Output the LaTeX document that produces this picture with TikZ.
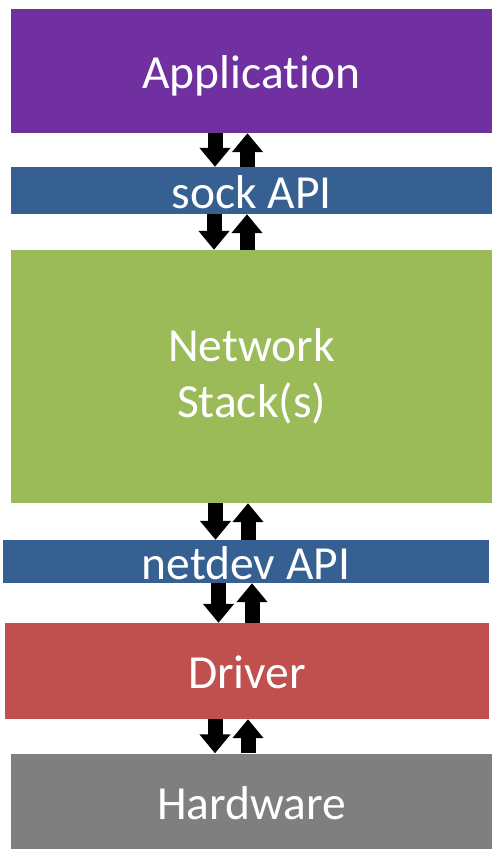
\documentclass[tikz,border=0pt]{standalone}
\usepackage{fontspec}
\setmainfont{Carlito}[Ligatures=NoCommon]
\usetikzlibrary{arrows.meta}
\definecolor{appviolet}{HTML}{7030A0}
\definecolor{apiblue}{HTML}{376092}
\definecolor{stackgreen}{HTML}{9BBB59}
\definecolor{driverred}{HTML}{C0504D}
\definecolor{hwgray}{HTML}{7F7F7F}
\begin{document}
\begin{tikzpicture}[x=1pt,y=-1pt,
  layer/.style={fill=#1,text=white,inner sep=0pt,align=center,
    font=\fontsize{47.5}{56}\selectfont},
  oneline/.style={text height=36pt,text depth=1pt},
  flow/.style={line width=15pt},
  >={Triangle[width=30pt,length=19pt]}]
  \useasboundingbox (0,0) rectangle (492,849);

  \node[layer=appviolet,oneline,minimum width=481pt,minimum height=124pt] (app) at (251.5,71) {Application};
  \node[layer=apiblue,oneline,minimum width=481pt,minimum height=47pt] (sock) at (251.5,190.5) {sock API};
  \node[layer=stackgreen,minimum width=481pt,minimum height=253pt] (stack) at (251.5,376.5) {Network\\Stack(s)};
  \node[layer=apiblue,oneline,minimum width=486pt,minimum height=43pt] (netdev) at (246,561.5) {netdev API};
  \node[layer=driverred,oneline,minimum width=484pt,minimum height=96pt] (drv) at (247,671) {Driver};
  \node[layer=hwgray,oneline,minimum width=481pt,minimum height=96pt] (hw) at (251.5,801.5) {Hardware};

  \draw[flow,->] ([xshift=-36.5pt]app.south) -- ([xshift=-36.5pt]sock.north);
  \draw[flow,->] ([xshift=-4pt]sock.north) -- ([xshift=-4pt]app.south);

  \draw[flow,->] ([xshift=-37.5pt]sock.south) -- ([xshift=-37.5pt]stack.north);
  \draw[flow,->] ([xshift=-4.5pt]stack.north) -- ([xshift=-4.5pt]sock.south);

  \draw[flow,->] ([xshift=-36pt]stack.south) -- ([xshift=-30.5pt]netdev.north);
  \draw[flow,->] ([xshift=2pt]netdev.north) -- ([xshift=-3.5pt]stack.south);

  \draw[flow,->] ([xshift=-27.5pt]netdev.south) -- ([xshift=-28.5pt]drv.north);
  \draw[flow,->] ([xshift=5pt]drv.north) -- ([xshift=6pt]netdev.south);

  \draw[flow,->] ([xshift=-32pt]drv.south) -- ([xshift=-36.5pt]hw.north);
  \draw[flow,->] ([xshift=-3.5pt]hw.north) -- ([xshift=1pt]drv.south);
\end{tikzpicture}
\end{document}
